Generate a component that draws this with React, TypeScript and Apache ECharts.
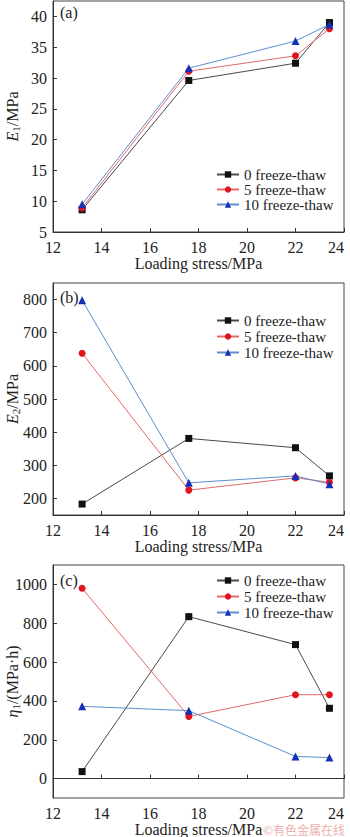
import React, { useEffect, useRef } from "react";
import * as echarts from "echarts";

const stress = [13.2, 17.6, 22.0, 23.4];
const seriesNames = ["0 freeze-thaw", "5 freeze-thaw", "10 freeze-thaw"];

const e1Zero = [8.6, 29.6, 32.4, 39.0];
const e1Five = [8.9, 31.1, 33.6, 38.0];
const e1Ten = [9.5, 31.6, 36.0, 38.7];

const e2Zero = [183, 381, 353, 268];
const e2Five = [638, 225, 262, 249];
const e2Ten = [798, 247, 268, 243];

const etaZero = [36, 834, 690, 362];
const etaFive = [980, 320, 432, 432];
const etaTen = [372, 350, 114, 108];

const xTicks = [12, 14, 16, 18, 20, 22, 24];
const e1Ticks = [5, 10, 15, 20, 25, 30, 35, 40];
const e2Ticks = [200, 300, 400, 500, 600, 700, 800];
const etaTicks = [0, 200, 400, 600, 800, 1000];

const FONT = "'Liberation Serif', 'Times New Roman', serif";
const markerColors = ["#111111", "#e0161f", "#1430b4"];
const lineColors = ["#4a4a4a", "#e06a6a", "#5b8fcc"];
const symbols = ["rect", "circle", "triangle"];
const symbolSizes = [7, 7, 8];

export default function App() {
  const ref = useRef<HTMLDivElement>(null);
  useEffect(() => {
    if (!ref.current) return;
    const chart = echarts.init(ref.current, null, { renderer: "svg" });

    const grids = [
      { left: 53, top: 1, width: 291, height: 231 },
      { left: 53, top: 283, width: 291, height: 232 },
      { left: 53, top: 565, width: 291, height: 233 },
    ];
    const yDefs = [
      { min: 5, max: 42.5, ticks: e1Ticks, name: "{i|E}{s|1}{n|/MPa}" },
      { min: 150, max: 850, ticks: e2Ticks, name: "{i|E}{s|2}{n|/MPa}" },
      { min: -100, max: 1100, ticks: etaTicks, name: "{i|η}{s|1}{n|/(MPa·h)}" },
    ];
    const dataSets = [
      [e1Zero, e1Five, e1Ten],
      [e2Zero, e2Five, e2Ten],
      [etaZero, etaFive, etaTen],
    ];
    const legendTops = [162, 308, 568];
    const legendGaps = [0, 1, 1];

    const axisLineStyle = { color: "#333", width: 1 };

    const option: any = {
      animation: false,
      backgroundColor: "#ffffff",
      textStyle: { fontFamily: FONT },
      grid: grids.map((g) => ({
        ...g,
        show: true,
        borderColor: "#444",
        borderWidth: 1,
        backgroundColor: "transparent",
        containLabel: false,
        outerBoundsMode: "none",
      })),
      xAxis: grids.map((_, i) => ({
        type: "value",
        gridIndex: i,
        min: 12,
        max: 24,
        interval: 2,
        name: "Loading stress/MPa",
        nameLocation: "middle",
        nameGap: 23,
        nameMoveOverlap: false,
        nameTextStyle: { fontFamily: FONT, fontSize: 16, color: "#222" },
        axisLine: { show: true, lineStyle: axisLineStyle },
        axisTick: { show: true, inside: true, length: 4, lineStyle: axisLineStyle, customValues: xTicks },
        axisLabel: {
          fontFamily: FONT,
          fontSize: 16,
          color: "#222",
          margin: 7,
          customValues: xTicks,
          alignMaxLabel: "right",
          formatter: (v: number) => String(v),
        },
        splitLine: { show: false },
      })),
      yAxis: yDefs.map((d, i) => ({
        type: "value",
        gridIndex: i,
        min: d.min,
        max: d.max,
        name: d.name,
        nameLocation: "middle",
        nameRotate: 90,
        nameGap: 32,
        nameMoveOverlap: false,
        nameTextStyle: {
          fontFamily: FONT,
          fontSize: 16,
          color: "#222",
          rich: {
            i: { fontFamily: FONT, fontSize: 16, fontStyle: "italic", color: "#222", lineHeight: 18 },
            s: { fontFamily: FONT, fontSize: 11, color: "#222", verticalAlign: "bottom", lineHeight: 18, padding: [6, 0, 0, 0] },
            n: { fontFamily: FONT, fontSize: 16, color: "#222", lineHeight: 18 },
          },
        },
        axisLine: { show: true, lineStyle: axisLineStyle },
        axisTick: { show: true, inside: true, length: 4, lineStyle: axisLineStyle, customValues: d.ticks },
        axisLabel: {
          fontFamily: FONT,
          fontSize: 16,
          color: "#222",
          margin: 6,
          customValues: d.ticks,
          formatter: (v: number) => String(v),
        },
        splitLine: { show: false },
      })),
      legend: legendTops.map((top, i) => ({
        data: seriesNames,
        orient: "vertical",
        left: 211,
        top,
        itemWidth: 22,
        itemHeight: 8,
        itemGap: legendGaps[i],
        textStyle: { fontFamily: FONT, fontSize: 15, color: "#222" },
        selectedMode: false,
      })),
      series: dataSets.flatMap((group, gi) =>
        group.map((vals, si) => ({
          type: "line",
          name: seriesNames[si],
          xAxisIndex: gi,
          yAxisIndex: gi,
          data: stress.map((x, k) => [x, vals[k]]),
          symbol: symbols[si],
          symbolSize: symbolSizes[si],
          showSymbol: true,
          lineStyle: { color: lineColors[si], width: 1 },
          itemStyle: { color: markerColors[si] },
          emphasis: { disabled: true },
        }))
      ),
      graphic: [
        { type: "text", left: 60, top: 4, style: { text: "(a)", font: `16px 'Liberation Serif', serif`, fill: "#222" } },
        { type: "text", left: 60, top: 289, style: { text: "(b)", font: `16px 'Liberation Serif', serif`, fill: "#222" } },
        { type: "text", left: 60, top: 572, style: { text: "(c)", font: `16px 'Liberation Serif', serif`, fill: "#222" } },
        {
          type: "text",
          left: 263,
          top: 823,
          style: { text: "©有色金属在线", font: `12px "Noto Sans CJK SC"`, fill: "#eeb0b0" },
        },
      ],
    };
    chart.setOption(option);
    return () => chart.dispose();
  }, []);
  return (
    <div
      ref={ref}
      style={{ position: "absolute", left: 0, top: 0, width: 350, height: 837 }}
    />
  );
}
